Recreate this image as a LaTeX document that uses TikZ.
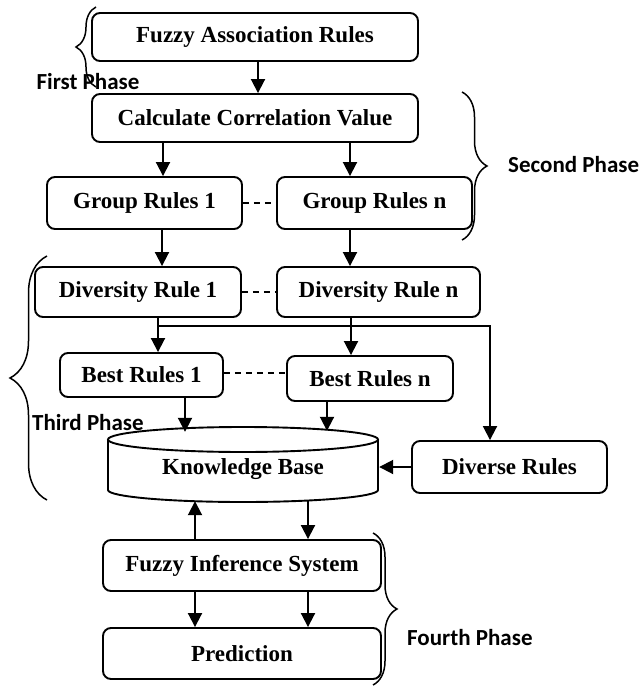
\documentclass[tikz,border=0pt]{standalone}
\usepackage{fontspec}
\setmainfont{Liberation Serif}
\newfontfamily\phasefont{Carlito}
\usetikzlibrary{arrows.meta,decorations.pathreplacing}
\begin{document}
\begin{tikzpicture}[x=1pt,y=1pt,
  box/.style={draw, line width=1.9pt, rounded corners=8pt, inner sep=0pt,
    font=\fontsize{23}{27}\selectfont\bfseries, align=center},
  arr/.style={line width=1.9pt, -{Triangle[length=14pt,width=14pt]}},
  link/.style={line width=1.3pt, dash pattern=on 6pt off 5pt},
  phasebrace/.style={decorate, decoration={brace, amplitude=#1}, line width=1.5pt},
  phaselabel/.style={font=\phasefont\fontsize{23}{27}\selectfont\bfseries, inner sep=0pt},
]
\useasboundingbox (0,0) rectangle (641,-687);

% process boxes
\node[box, minimum width=326pt, minimum height=48pt] (far) at (255,-37) {Fuzzy Association Rules};
\node[box, minimum width=326pt, minimum height=48pt] (ccv) at (255,-118) {Calculate Correlation Value};
\node[box, minimum width=195pt, minimum height=52pt] (gr1) at (144.5,-203) {Group Rules 1};
\node[box, minimum width=195pt, minimum height=52pt] (grn) at (374.5,-203) {Group Rules n};
\node[box, minimum width=206pt, minimum height=50pt] (dr1) at (138,-292) {Diversity Rule 1};
\node[box, minimum width=203pt, minimum height=50pt] (drn) at (378.5,-292) {Diversity Rule n};
\node[box, minimum width=163pt, minimum height=44pt] (br1) at (141.5,-375) {Best Rules 1};
\node[box, minimum width=166pt, minimum height=45pt] (brn) at (370,-378.5) {Best Rules n};
\node[box, minimum width=195pt, minimum height=52pt] (dvr) at (509.5,-467) {Diverse Rules};
\node[box, minimum width=278pt, minimum height=51pt] (fis) at (242,-565.5) {Fuzzy Inference System};
\node[box, minimum width=278pt, minimum height=51pt] (pred) at (242,-653.5) {Prediction};

% knowledge base cylinder
\node[inner sep=0pt, minimum width=272pt, minimum height=78pt,
  font=\fontsize{23}{27}\selectfont\bfseries] (kb) at (243,-469) {Knowledge Base};
\draw[line width=1.9pt] (243,-439.5) ellipse [x radius=135, y radius=12.5];
\draw[line width=1.9pt] (108,-439.5) -- (108,-490)
  arc[start angle=180, end angle=360, x radius=135, y radius=12] -- (378,-439.5);

% connectors
\draw[arr] ([xshift=3pt]far.south) -- ([xshift=3pt]ccv.north);
\draw[arr] ([xshift=18.5pt]gr1.north |- ccv.south) -- ([xshift=18.5pt]gr1.north);
\draw[arr] ([xshift=-24.5pt]grn.north |- ccv.south) -- ([xshift=-24.5pt]grn.north);
\draw[arr] ([xshift=24pt]dr1.north |- gr1.south) -- ([xshift=24pt]dr1.north);
\draw[arr] ([xshift=-28.5pt]drn.north |- grn.south) -- ([xshift=-28.5pt]drn.north);
\draw[arr] ([xshift=16.5pt]br1.north |- dr1.south) -- ([xshift=16.5pt]br1.north);
\draw[arr] ([xshift=-19pt]brn.north |- drn.south) -- ([xshift=-19pt]brn.north);
\draw[arr] ([xshift=20pt,yshift=-8pt]dr1.south) -| ([xshift=-19.5pt]dvr.north);
\draw[arr] ([xshift=43.5pt]br1.south) -- ([xshift=43.5pt,yshift=-2pt]br1.south |- kb.north);
\draw[arr] ([xshift=-43pt]brn.south) -- ([xshift=-43pt,yshift=-1pt]brn.south |- kb.north);
\draw[arr] (dvr.west) -- (dvr.west -| kb.east);
\draw[arr] ([xshift=-47pt]fis.north) -- ([xshift=-47pt,yshift=7pt]fis.north |- kb.south);
\draw[arr] ([xshift=66pt,yshift=7pt]fis.north |- kb.south) -- ([xshift=66pt]fis.north);
\draw[arr] ([xshift=-47pt]fis.south) -- ([xshift=-47pt]pred.north);
\draw[arr] ([xshift=66pt]fis.south) -- ([xshift=66pt]pred.north);

% parallel groups
\draw[link] (gr1.east) -- (grn.west);
\draw[link] (dr1.east) -- (drn.west);
\draw[link] ([yshift=2pt]br1.east) -- ([yshift=2pt]br1.east -| brn.west);

% phases
\node[phaselabel] (ph1) at (88,-82) {First Phase};
\node[phaselabel, anchor=west] (ph2) at (508,-165) {Second Phase};
\node[phaselabel, anchor=west] (ph3) at (32,-423) {Third Phase};
\node[phaselabel, anchor=west] (ph4) at (407,-638) {Fourth Phase};
\draw[phasebrace=20pt] (96,-87) -- (96,-7);
\draw[phasebrace=25pt] (462,-92) -- (462,-240);
\draw[phasebrace=37pt] (47,-500) -- (47,-256);
\draw[phasebrace=24pt] (373,-533) -- (373,-685);
\end{tikzpicture}
\end{document}
